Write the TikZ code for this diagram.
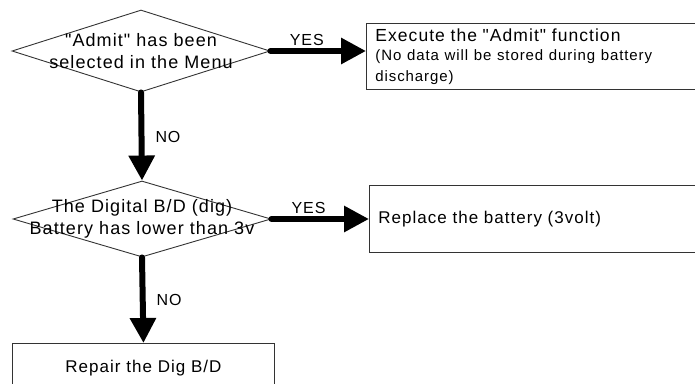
\documentclass[tikz,border=0pt]{standalone}
\usepackage{fontspec}
\setmainfont{Liberation Sans}[LetterSpace=6,Ligatures=TeXOff]
\usetikzlibrary{shapes.geometric}
\usetikzlibrary{arrows.meta}

\begin{document}
\begin{tikzpicture}[x=1pt,y=-1pt,
    decision/.style={diamond,draw=black!80,line width=0.9pt,inner sep=0pt,minimum width=258pt},
    dtext/.style={align=center,font=\fontsize{18}{21.5}\selectfont},
    box/.style={rectangle,draw=black!80,line width=0.9pt,anchor=north west,align=left,
        inner xsep=9pt,font=\fontsize{17}{21}\selectfont},
    flow/.style={line width=6pt,line cap=round,-{Triangle[length=25pt,width=25pt]}},
    answer/.style={font=\fontsize{16}{19}\selectfont,inner sep=2pt}]
    \useasboundingbox (0,0) rectangle (695,383);
    \clip (0,0) rectangle (695,383);
        \node[decision,minimum height=82pt] (Q1) at (141,51) {};
        \node[dtext] (Q1t) at (Q1) {"Admit" has been\\selected in the Menu};
        \node[decision,minimum height=76pt] (Q2) at (142,219) {};
        \node[dtext] (Q2t) at (Q2) {The Digital B/D (dig)\\Battery has lower than 3v};
        \node[box,minimum height=66pt,text width=342pt] (R1) at (366,23)
            {\fontsize{17.5}{21}\selectfont Execute the "Admit" function\\[-1pt]
             \fontsize{15}{20}\selectfont(No data will be stored during battery\\discharge)};
        \node[box,minimum height=67pt,text width=342pt] (R2) at (369,185) {Replace the battery (3volt)};
        \node[box,minimum height=50pt,minimum width=262pt,align=center] (R3) at (12,343) {Repair the Dig B/D};
        \draw[flow] (Q1.east) -- (Q1.east -| R1.west) node[answer,pos=0.38,above] {YES};
         \draw[flow] (Q1.south) -- (Q2.north) node[answer,midway,right,xshift=9pt] {NO};
        \draw[flow] (Q2.east) -- (Q2.east -| R2.west) node[answer,pos=0.38,above] {YES};
         \draw[flow] (Q2.south) -- (R3.north) node[answer,midway,right,xshift=9pt] {NO};
    \end{tikzpicture}
\end{document}
